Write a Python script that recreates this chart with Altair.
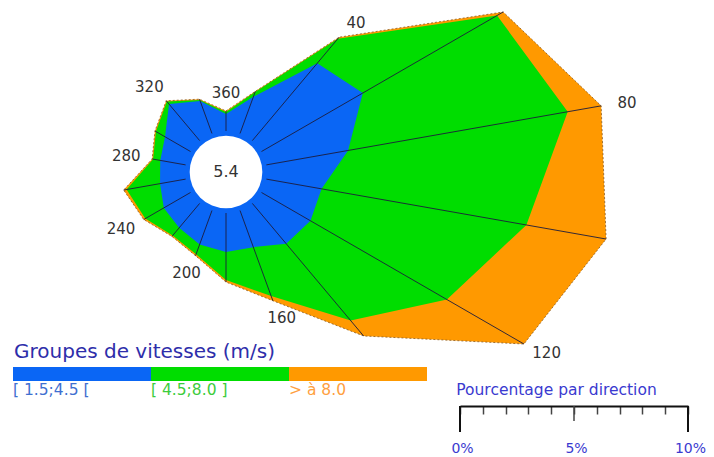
import altair as alt
import pandas as pd

# ---------------- data ----------------
directions = [0, 20, 40, 60, 80, 100, 120, 140, 160, 180, 200, 220, 240, 260, 280, 300, 320, 340]
pct_low = [0.75, 1.71, 4.43, 5.13, 3.64, 2.46, 2.48, 2.31, 1.71, 1.71, 1.58, 1.40, 1.35, 1.14, 1.13, 1.29, 2.09, 1.52]
pct_mid = [0.08, 0.22, 1.40, 6.80, 9.78, 9.12, 6.91, 4.40, 2.28, 1.23, 0.46, 0.44, 0.94, 1.49, 0.32, 0.46, 0.15, 0.04]
pct_high = [0.05, 0.04, 0.09, 0.31, 1.49, 3.55, 3.90, 0.88, 0.22, 0.09, 0.07, 0.05, 0.08, 0.13, 0.04, 0.05, 0.04, 0.04]
calm = 5.4
label_directions = [40, 80, 120, 160, 200, 240, 280, 320, 360]
group_labels = ["[ 1.5;4.5 [", "[ 4.5;8.0 ]", "> à 8.0"]
legend_title = "Groupes de vitesses (m/s)"
scale_title = "Pourcentage par direction"
scale_ticks = [0, 1, 2, 3, 4, 5, 6, 7, 8, 9, 10]
scale_long_ticks = [0, 10]
scale_mid_ticks = [5]

# ---------------- style / layout ----------------
FONT = "DejaVu Sans"
band_colors = ["#0a66f5", "#00dd00", "#ff9900"]
label_colors = ["#3f6fd0", "#3ccc3c", "#ffa040"]
W, H = 698, 398
PX = 22.8            # pixels per percent
CX, CY = 218, 164    # centre of the rose in plot pixels
R0 = 41 / PX         # hole radius in percent units
GAP_X, GAP_Y = 1.15, 0.8   # label distance beyond the outer vertex (percent units)
LEGEND_RANGE = [5, 419]
HALF_BAND = (LEGEND_RANGE[1] - LEGEND_RANGE[0]) / 6


def xs():
    return alt.Scale(domain=[-CX / PX, (W - CX) / PX], nice=False, zero=False)


def ys():
    return alt.Scale(domain=[-(H - CY) / PX, CY / PX], nice=False, zero=False)


# polygon table (cumulative rings)
bands = [pct_low, pct_mid, pct_high]
rows = []
for b in range(3):
    for i in range(len(directions) + 1):
        k = i % len(directions)
        cum = sum(bands[j][k] for j in range(b + 1))
        rows.append({"band": group_labels[b], "order": i,
                     "dir": directions[k] + (360 if i == len(directions) else 0),
                     "cum": cum})
poly_df = pd.DataFrame(rows)

dir_df = pd.DataFrame({
    "dir": directions,
    "total": [pct_low[i] + pct_mid[i] + pct_high[i] for i in range(len(directions))],
})


def poly_base(b):
    return (
        alt.Chart(poly_df)
        .transform_filter(alt.datum.band == group_labels[b])
        .transform_calculate(rr=f"{R0} + datum.cum")
        .transform_calculate(px="datum.rr * sin(datum.dir * PI / 180)",
                             py="datum.rr * cos(datum.dir * PI / 180)")
    )


layers = []
# filled cumulative polygons: outer first
for b in [2, 1, 0]:
    layers.append(
        poly_base(b)
        .mark_line(filled=True, strokeWidth=0)
        .encode(
            x=alt.X("px:Q", scale=xs(), axis=None),
            y=alt.Y("py:Q", scale=ys(), axis=None),
            order=alt.Order("order:Q"),
            color=alt.value(band_colors[b]),
        )
    )

# outer dotted edge
layers.append(
    poly_base(2)
    .mark_line(strokeWidth=1, strokeDash=[2, 2], color="#8a5a20", opacity=0.8)
    .encode(
        x=alt.X("px:Q", scale=xs(), axis=None),
        y=alt.Y("py:Q", scale=ys(), axis=None),
        order=alt.Order("order:Q"),
    )
)

# radial lines
layers.append(
    alt.Chart(dir_df)
    .transform_calculate(
        x1=f"{R0} * sin(datum.dir * PI / 180)",
        y1=f"{R0} * cos(datum.dir * PI / 180)",
        x2=f"({R0} + datum.total) * sin(datum.dir * PI / 180)",
        y2=f"({R0} + datum.total) * cos(datum.dir * PI / 180)",
    )
    .mark_rule(color="#1c1c3c", strokeWidth=0.9)
    .encode(
        x=alt.X("x1:Q", scale=xs(), axis=None),
        y=alt.Y("y1:Q", scale=ys(), axis=None),
        x2="x2:Q",
        y2="y2:Q",
    )
)

# calm hole
calm_df = pd.DataFrame({"calm": [calm]})
layers.append(
    alt.Chart(calm_df)
    .transform_calculate(ox="0", oy="0")
    .mark_circle(color="white", opacity=1, size=3.14159 * 41 * 41)
    .encode(x=alt.X("ox:Q", scale=xs(), axis=None), y=alt.Y("oy:Q", scale=ys(), axis=None))
)
layers.append(
    alt.Chart(calm_df)
    .transform_calculate(ox="0", oy="0")
    .mark_text(font=FONT, fontSize=16, color="#333333")
    .encode(x=alt.X("ox:Q", scale=xs(), axis=None), y=alt.Y("oy:Q", scale=ys(), axis=None),
            text=alt.Text("calm:Q", format=".1f"))
)

# direction labels
layers.append(
    alt.Chart(dir_df)
    .transform_calculate(lab="datum.dir == 0 ? 360 : datum.dir")
    .transform_filter(alt.FieldOneOfPredicate(field="lab", oneOf=label_directions))
    .transform_calculate(
        lx=f"({R0} + datum.total + {GAP_X}) * sin(datum.dir * PI / 180)",
        ly=f"({R0} + datum.total) * cos(datum.dir * PI / 180) + {GAP_Y} * cos(datum.dir * PI / 180)",
    )
    .mark_text(font=FONT, fontSize=15, color="#333333")
    .encode(
        x=alt.X("lx:Q", scale=xs(), axis=None),
        y=alt.Y("ly:Q", scale=ys(), axis=None),
        text="lab:N",
    )
)

# ---------------- legend ----------------
legend_df = pd.DataFrame({"group": group_labels})


def band_x():
    return alt.Scale(domain=group_labels, range=LEGEND_RANGE, paddingInner=0, paddingOuter=0)


layers.append(
    alt.Chart(legend_df).mark_rect().encode(
        x=alt.X("group:N", sort=group_labels, scale=band_x(), axis=None),
        y=alt.value(359),
        y2=alt.value(373),
        color=alt.Color("group:N", scale=alt.Scale(domain=group_labels, range=band_colors), legend=None),
    )
)
layers.append(
    alt.Chart(legend_df).mark_text(
        align="left", baseline="middle", font=FONT, fontSize=15.5, dx=-HALF_BAND
    ).encode(
        x=alt.X("group:N", sort=group_labels, scale=band_x(), axis=None),
        y=alt.value(382),
        text="group:N",
        color=alt.Color("group:N", scale=alt.Scale(domain=group_labels, range=label_colors), legend=None),
    )
)
layers.append(
    alt.Chart(legend_df).transform_filter(
        alt.datum.group == group_labels[0]
    ).mark_text(
        align="left", baseline="middle", font=FONT, fontSize=20, color="#2e2eaa", dx=-HALF_BAND + 1
    ).encode(
        x=alt.X("group:N", sort=group_labels, scale=band_x(), axis=None),
        y=alt.value(344),
        text=alt.value(legend_title),
    )
)

# ---------------- percentage scale bar ----------------


def pct_scale():
    return alt.Scale(domain=[scale_ticks[0], scale_ticks[-1]], range=[452, 680], nice=False, zero=False)


long_df = pd.DataFrame({"pct": scale_long_ticks})
mid_df = pd.DataFrame({"pct": scale_mid_ticks})

layers.append(
    alt.Chart(long_df).mark_rule(color="#111111", strokeWidth=2).encode(
        x=alt.X(
            "pct:Q",
            scale=pct_scale(),
            axis=alt.Axis(
                orient="bottom",
                values=scale_ticks,
                grid=False,
                title=scale_title,
                titleX=548,
                titleY=-12,
                titleAlign="center",
                titleBaseline="alphabetic",
                titleFont=FONT,
                titleFontSize=15.5,
                titleFontWeight="normal",
                titleColor="#3a3ad0",
                labelExpr="datum.value % 5 === 0 ? datum.value + '%' : ''",
                labelFont=FONT,
                labelFontSize=14,
                labelColor="#3a3ad0",
                labelPadding=27,
                labelOffset=2,
                labelFlush=False,
                labelOverlap=False,
                domainColor="#111111",
                domainWidth=2,
                tickColor="#444444",
                tickWidth=1.5,
                tickSize=8,
            ),
        ),
        y=alt.value(H),
        y2=alt.value(H + 26),
    )
)
layers.append(
    alt.Chart(mid_df).mark_rule(color="#444444", strokeWidth=1.5).encode(
        x=alt.X("pct:Q", scale=pct_scale(), axis=None),
        y=alt.value(H),
        y2=alt.value(H + 15),
    )
)

chart = (
    alt.layer(*layers)
    .resolve_scale(x="independent", y="independent", color="independent")
    .properties(width=W, height=H, padding={"left": 0, "top": 0, "right": 0, "bottom": 0})
    .configure_view(stroke=None)
)

chart.save("out.html", embed_options={"renderer": "svg", "actions": False})
